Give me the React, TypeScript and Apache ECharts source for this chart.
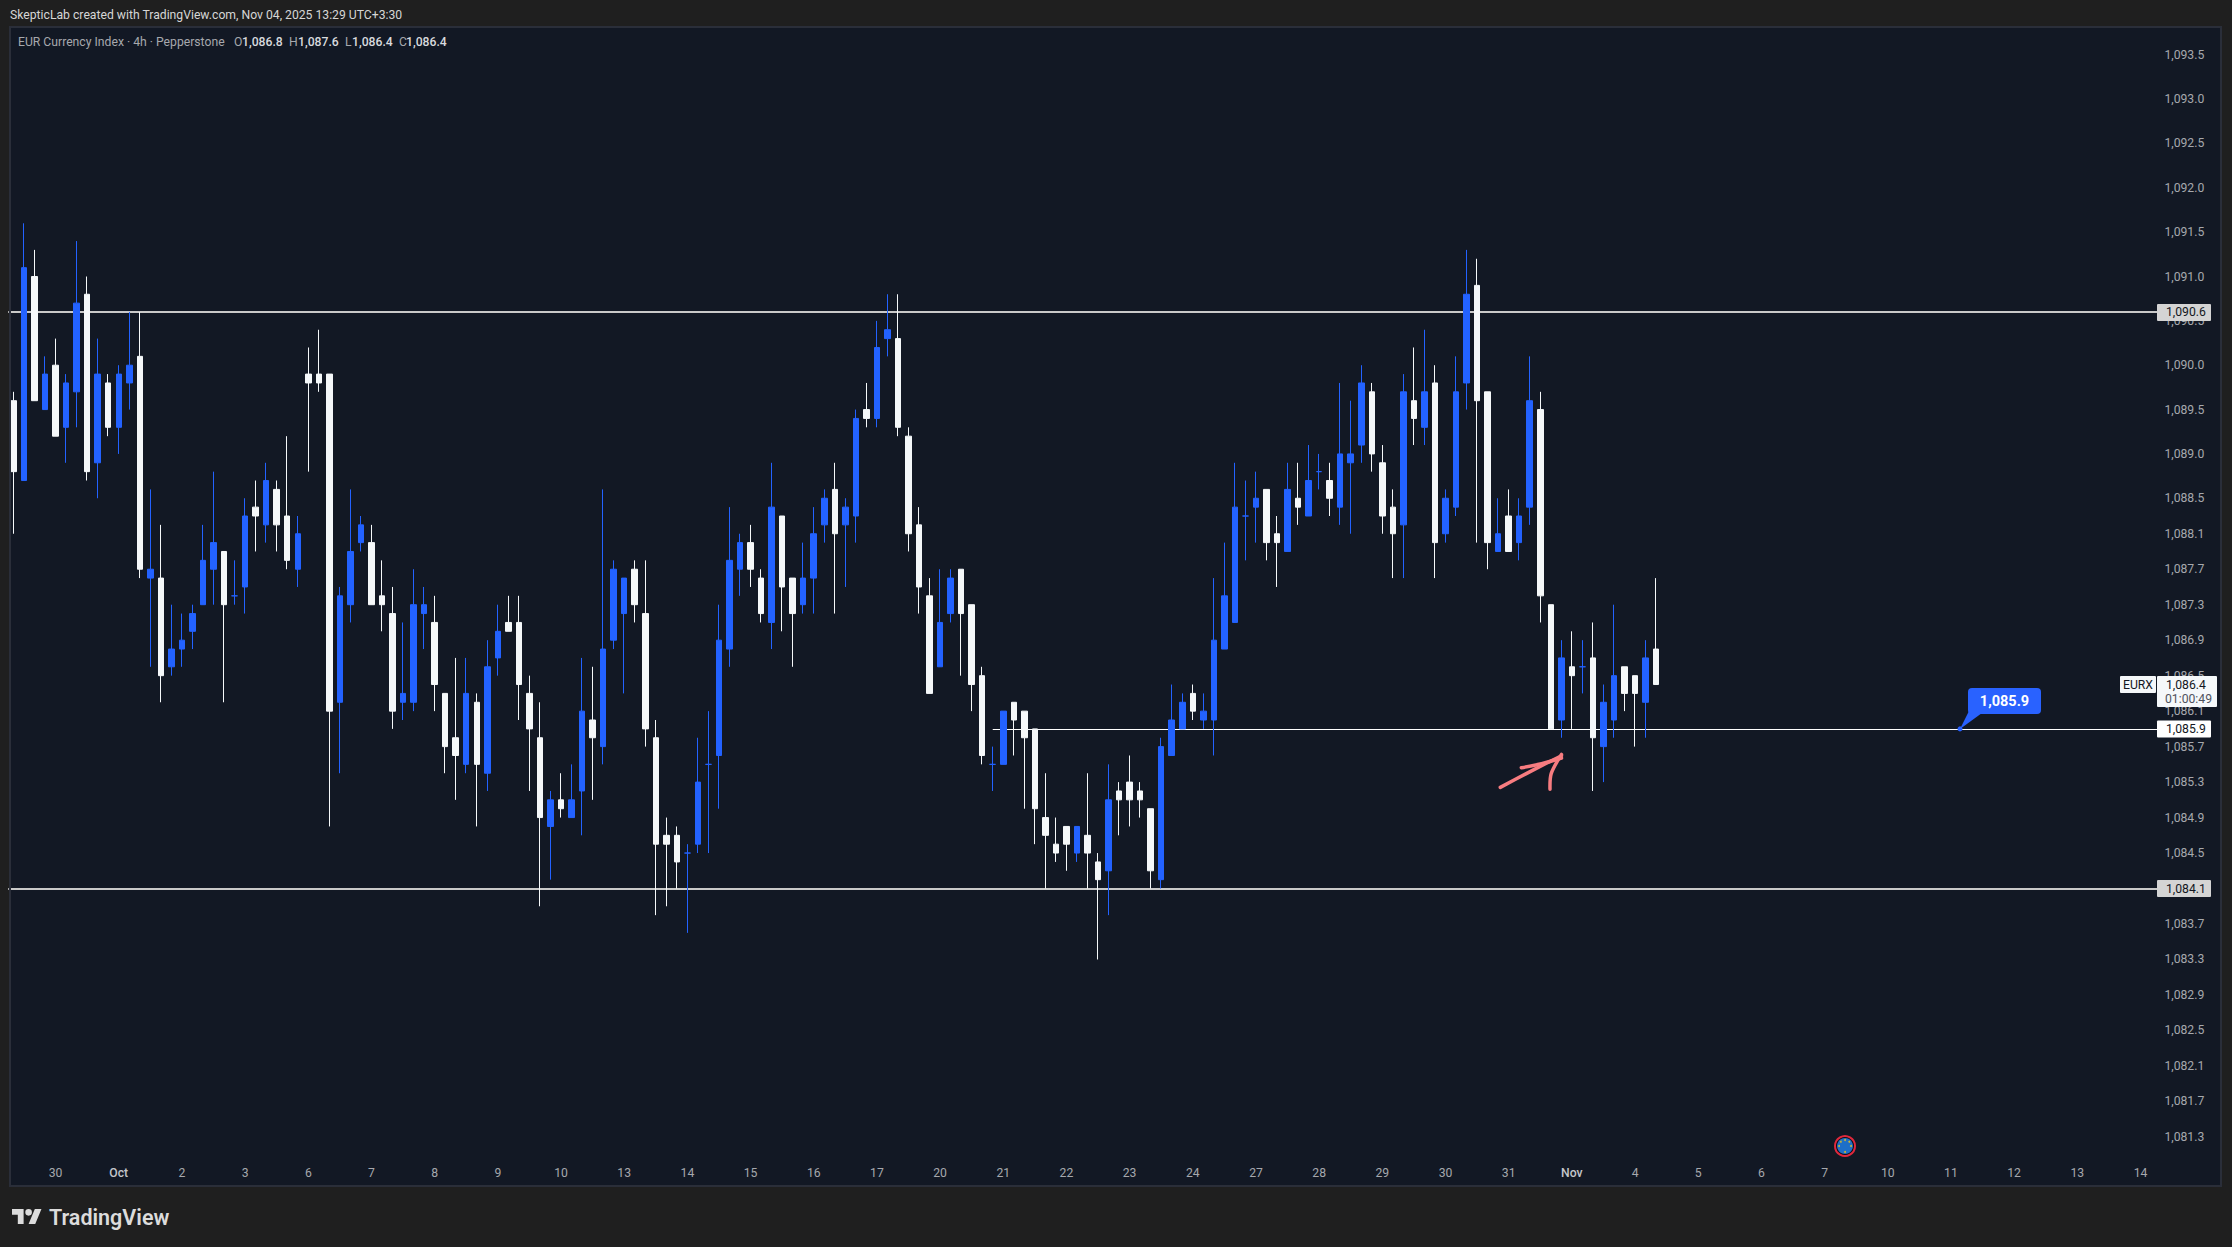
import { useEffect, useRef } from "react";
import * as echarts from "echarts";

// W = white (down) candle, B = blue (up) candle, D = blue doji
const candleKinds = [
  "WBWBWBBWBW", "BBWBWBBBBB", "WDBWBWWBWW", "WBBBWWWBBB", "WWWBWBBWWW", "WBWBBWBBBW",
  "WWWWDBDBBB", "WWBWWBBBWB", "BWBBWWWWBB", "WWWDBWWWWW", "WBWWBWWWWB", "BBWBBBBDBW",
  "WBWBDWBBBW", "WWBWBWBBBW", "WBWBBWWBWD", "WBBWWBW",
].join("");

const highs = [
  1089.7, 1091.6, 1091.3, 1090.1, 1090.3, 1089.9, 1091.4, 1091.0, 1090.3, 1089.9,
  1090.0, 1090.6, 1090.6, 1088.6, 1088.2, 1087.3, 1087.2, 1087.3, 1088.2, 1088.8,
  1087.9, 1087.8, 1088.5, 1088.7, 1088.9, 1088.7, 1089.2, 1088.3, 1090.2, 1090.4,
  1089.9, 1087.5, 1088.6, 1088.3, 1088.2, 1087.8, 1087.5, 1087.1, 1087.7, 1087.5,
  1087.4, 1086.3, 1086.7, 1086.7, 1086.3, 1086.9, 1087.3, 1087.4, 1087.4, 1086.5,
  1086.2, 1085.2, 1085.4, 1085.5, 1086.7, 1086.6, 1088.6, 1087.8, 1087.6, 1087.8,
  1087.8, 1086.0, 1084.9, 1084.8, 1084.6, 1085.8, 1086.1, 1087.3, 1088.4, 1088.1,
  1088.2, 1087.7, 1088.9, 1088.3, 1087.6, 1088.0, 1088.4, 1088.6, 1088.9, 1088.5,
  1089.5, 1089.8, 1090.5, 1090.8, 1090.8, 1089.3, 1088.4, 1087.6, 1087.7, 1087.7,
  1087.7, 1087.3, 1086.6, 1085.7, 1086.1, 1086.2, 1086.1, 1085.9, 1085.4, 1084.9,
  1084.8, 1084.8, 1085.4, 1084.5, 1085.5, 1085.3, 1085.6, 1085.3, 1085.0, 1085.8,
  1086.4, 1086.3, 1086.4, 1086.3, 1087.6, 1088.0, 1088.9, 1088.7, 1088.8, 1088.6,
  1088.3, 1088.9, 1088.9, 1089.1, 1089.0, 1088.9, 1089.8, 1089.6, 1090.0, 1089.8,
  1089.1, 1088.6, 1089.9, 1090.2, 1090.4, 1090.0, 1088.6, 1090.1, 1091.3, 1091.2,
  1089.7, 1088.5, 1088.6, 1088.5, 1090.1, 1089.7, 1087.3, 1086.9, 1087.0, 1086.9,
  1087.1, 1086.4, 1087.3, 1086.6, 1086.5, 1086.9, 1087.6,
];
const bodyTops = [
  1089.6, 1091.1, 1091.0, 1089.9, 1090.0, 1089.8, 1090.7, 1090.8, 1089.9, 1089.8,
  1089.9, 1090.0, 1090.1, 1087.7, 1087.6, 1086.8, 1086.9, 1087.2, 1087.8, 1088.0,
  1087.9, 1087.4, 1088.3, 1088.4, 1088.7, 1088.6, 1088.3, 1088.1, 1089.9, 1089.9,
  1089.9, 1087.4, 1087.9, 1088.2, 1088.0, 1087.4, 1087.2, 1086.3, 1087.3, 1087.3,
  1087.1, 1086.3, 1085.8, 1086.3, 1086.2, 1086.6, 1087.0, 1087.1, 1087.1, 1086.3,
  1085.8, 1085.1, 1085.1, 1085.1, 1086.1, 1086.0, 1086.8, 1087.7, 1087.6, 1087.7,
  1087.2, 1085.8, 1084.7, 1084.7, 1084.5, 1085.3, 1085.5, 1086.9, 1087.8, 1088.0,
  1088.0, 1087.6, 1088.4, 1088.3, 1087.6, 1087.6, 1088.1, 1088.5, 1088.6, 1088.4,
  1089.4, 1089.5, 1090.2, 1090.4, 1090.3, 1089.2, 1088.2, 1087.4, 1087.1, 1087.6,
  1087.7, 1087.3, 1086.5, 1085.5, 1086.1, 1086.2, 1086.1, 1085.9, 1084.9, 1084.6,
  1084.8, 1084.8, 1084.7, 1084.4, 1085.1, 1085.2, 1085.3, 1085.2, 1085.0, 1085.7,
  1086.0, 1086.2, 1086.3, 1086.1, 1086.9, 1087.4, 1088.4, 1088.3, 1088.5, 1088.6,
  1088.1, 1088.6, 1088.5, 1088.7, 1088.8, 1088.7, 1089.0, 1089.0, 1089.8, 1089.7,
  1088.9, 1088.4, 1089.7, 1089.6, 1089.7, 1089.8, 1088.5, 1089.7, 1090.8, 1090.9,
  1089.7, 1088.1, 1088.3, 1088.3, 1089.6, 1089.5, 1087.3, 1086.7, 1086.6, 1086.6,
  1086.7, 1086.2, 1086.5, 1086.6, 1086.5, 1086.7, 1086.8,
];
const bodyBottoms = [
  1088.8, 1088.7, 1089.6, 1089.5, 1089.2, 1089.3, 1089.7, 1088.8, 1088.9, 1089.3,
  1089.3, 1089.8, 1087.7, 1087.6, 1086.5, 1086.6, 1086.8, 1087.0, 1087.3, 1087.7,
  1087.3, 1087.4, 1087.5, 1088.3, 1088.2, 1088.2, 1087.8, 1087.7, 1089.8, 1089.8,
  1086.1, 1086.2, 1087.3, 1088.0, 1087.3, 1087.3, 1086.1, 1086.2, 1086.2, 1087.2,
  1086.4, 1085.7, 1085.6, 1085.5, 1085.5, 1085.4, 1086.7, 1087.0, 1086.4, 1085.9,
  1084.9, 1084.8, 1085.0, 1084.9, 1085.2, 1085.8, 1085.7, 1086.9, 1087.2, 1087.3,
  1085.9, 1084.6, 1084.6, 1084.4, 1084.5, 1084.6, 1085.5, 1085.6, 1086.8, 1087.7,
  1087.7, 1087.2, 1087.1, 1087.5, 1087.2, 1087.3, 1087.6, 1088.2, 1088.1, 1088.2,
  1088.3, 1089.4, 1089.4, 1090.3, 1089.3, 1088.1, 1087.5, 1086.3, 1086.6, 1087.2,
  1087.2, 1086.4, 1085.6, 1085.5, 1085.5, 1086.0, 1085.8, 1085.0, 1084.7, 1084.5,
  1084.6, 1084.5, 1084.5, 1084.2, 1084.3, 1085.1, 1085.1, 1085.1, 1084.3, 1084.2,
  1085.6, 1085.9, 1086.1, 1086.0, 1086.0, 1086.8, 1087.1, 1088.3, 1088.4, 1088.0,
  1088.0, 1087.9, 1088.4, 1088.3, 1088.8, 1088.5, 1088.4, 1088.9, 1089.1, 1089.0,
  1088.3, 1088.1, 1088.2, 1089.4, 1089.3, 1088.0, 1088.1, 1088.4, 1089.8, 1089.6,
  1088.0, 1087.9, 1087.9, 1088.0, 1088.4, 1087.4, 1085.9, 1086.0, 1086.5, 1086.6,
  1085.8, 1085.7, 1086.0, 1086.3, 1086.3, 1086.2, 1086.4,
];
const lows = [
  1088.1, 1088.7, 1089.6, 1089.5, 1089.2, 1088.9, 1089.3, 1088.7, 1088.5, 1089.2,
  1089.0, 1089.5, 1087.6, 1086.6, 1086.2, 1086.5, 1086.6, 1086.8, 1087.3, 1087.3,
  1086.2, 1087.3, 1087.2, 1087.9, 1088.0, 1087.9, 1087.7, 1087.5, 1088.8, 1089.7,
  1084.8, 1085.4, 1087.1, 1087.9, 1087.3, 1087.0, 1085.9, 1086.0, 1086.1, 1086.8,
  1086.1, 1085.4, 1085.1, 1085.4, 1084.8, 1085.2, 1086.5, 1087.0, 1086.0, 1085.2,
  1083.9, 1084.2, 1084.9, 1084.9, 1084.7, 1085.1, 1085.5, 1086.8, 1086.3, 1087.1,
  1085.7, 1083.8, 1083.9, 1084.1, 1083.6, 1084.5, 1084.5, 1085.0, 1086.6, 1087.4,
  1087.5, 1087.1, 1086.8, 1087.0, 1086.6, 1087.2, 1087.2, 1088.0, 1087.2, 1087.5,
  1088.0, 1089.3, 1089.3, 1090.1, 1089.2, 1087.9, 1087.2, 1086.3, 1086.6, 1087.1,
  1086.5, 1086.1, 1085.5, 1085.2, 1085.5, 1085.6, 1085.0, 1084.6, 1084.1, 1084.4,
  1084.3, 1084.4, 1084.1, 1083.3, 1083.8, 1084.7, 1084.8, 1084.9, 1084.1, 1084.1,
  1085.6, 1085.9, 1086.0, 1085.9, 1085.6, 1086.8, 1087.1, 1087.8, 1088.0, 1087.8,
  1087.5, 1087.9, 1088.2, 1088.3, 1088.6, 1088.3, 1088.2, 1088.1, 1088.9, 1088.8,
  1088.1, 1087.6, 1087.6, 1089.1, 1089.1, 1087.6, 1088.0, 1088.3, 1089.5, 1088.0,
  1087.7, 1087.9, 1087.9, 1087.8, 1088.2, 1087.1, 1085.9, 1085.8, 1085.9, 1086.3,
  1085.2, 1085.3, 1085.8, 1086.1, 1085.7, 1085.8, 1086.4,
];

const dayLabels = [
  "30", "Oct", "2", "3", "6", "7", "8", "9", "10", "13", "14", "15", "16", "17", "20", "21", "22",
  "23", "24", "27", "28", "29", "30", "31", "Nov", "4", "5", "6", "7", "10", "11", "12", "13", "14",
];

// price scale labels, the 1,084.1 one sits under its tag
const priceTicks = [
  1093.5, 1093.0, 1092.5, 1092.0, 1091.5, 1091.0, 1090.5, 1090.0, 1089.5, 1089.0, 1088.5, 1088.1,
  1087.7, 1087.3, 1086.9, 1086.5, 1086.1, 1085.7, 1085.3, 1084.9, 1084.5, 1083.7, 1083.3, 1082.9,
  1082.5, 1082.1, 1081.7, 1081.3,
];

const levelHigh = 1090.6;
const levelLow = 1084.1;
const levelRay = 1085.9;
const lastPrice = 1086.4;
const rayStartIndex = 93;

const FONT = "Roboto, sans-serif";
const FONT_SIZE = 12.2;
const OUTER_BG = "#1f1f1f";
const PANE_BG = "#121824";
const PANE_BORDER = "#2a2e39";
const BLUE = "#2362ff";
const WHITE = "#f5f8fa";
const AXIS_TEXT = "#a6a8ad";

const fmt = (v: number) =>
  v.toLocaleString("en-US", { minimumFractionDigits: 1, maximumFractionDigits: 1 });

// one slot per 4h bar, with a day label on every sixth slot
const SLOTS = 205;
const categories = Array.from({ length: SLOTS }, (_, i) =>
  i >= 4 && (i - 4) % 6 === 0 ? dayLabels[(i - 4) / 6] ?? "" : ""
);

const candles = highs.map((high, i) => {
  const isDown = candleKinds[i] === "W";
  return isDown
    ? [bodyTops[i], bodyBottoms[i], lows[i], high]
    : [bodyBottoms[i], bodyTops[i], lows[i], high];
});

const logoPath = "M14 22H7V11H0V4h14v18zM28 22h-8l7.5-18h8L28 22zM24 8a4 4 0 1 1-8 0 4 4 0 0 1 8 0z";
echarts.graphic.registerShape("tvLogo", echarts.graphic.extendPath(logoPath, {}));

const text = (x: number, y: number, value: string, fill: string, fontSize = FONT_SIZE, fontWeight: any = "normal", align = "left") => ({
  type: "text",
  x,
  y,
  z: 30,
  style: { text: value, fill, fontFamily: FONT, fontSize, fontWeight, align, verticalAlign: "middle" },
});

const box = (x: number, y: number, width: number, height: number, fill: string, r = 1, z = 20) => ({
  type: "rect",
  shape: { x, y, width, height, r },
  z,
  style: { fill },
});

const stroke = (points: number[][]) => ({
  type: "polyline",
  z: 25,
  shape: { points, smooth: 0.3 },
  style: { stroke: "#f77c80", lineWidth: 3.5, fill: "none", lineCap: "round", lineJoin: "round" },
});

const euFlagDots = [0, 1, 2, 3, 4, 5, 6, 7].map((i) => ({
  type: "circle",
  z: 27,
  shape: {
    cx: 1845 + 6 * Math.cos((i * Math.PI) / 4),
    cy: 1146 + 6 * Math.sin((i * Math.PI) / 4),
    r: 1,
  },
  style: { fill: "#c9b637" },
}));

export default function App() {
  const chartRef = useRef<HTMLDivElement>(null);

  useEffect(() => {
    if (!chartRef.current) return;
    const chart = echarts.init(chartRef.current, undefined, { renderer: "svg" });

    chart.setOption({
      animation: false,
      backgroundColor: OUTER_BG,
      textStyle: { fontFamily: FONT },
      grid: { left: 8.2, right: 65.2, top: 28.16, bottom: 83.5, containLabel: false },
      xAxis: {
        type: "category",
        data: categories,
        axisLine: { show: false },
        axisTick: { show: false },
        splitLine: { show: false },
        axisLabel: {
          color: AXIS_TEXT,
          fontFamily: FONT,
          fontSize: FONT_SIZE,
          margin: 3,
          hideOverlap: false,
          interval: (_: number, value: string) => value !== "",
          formatter: (value: string) => (value === "Oct" || value === "Nov" ? `{month|${value}}` : value),
          rich: { month: { color: "#c4c6cb", fontFamily: FONT, fontSize: FONT_SIZE, fontWeight: 500 } },
        },
      },
      yAxis: {
        type: "value",
        position: "right",
        min: 1081,
        max: 1093.8,
        scale: true,
        axisLine: { show: false },
        axisTick: { show: false },
        splitLine: { show: false },
        axisLabel: {
          color: AXIS_TEXT,
          fontFamily: FONT,
          fontSize: FONT_SIZE,
          margin: -2.4,
          customValues: priceTicks,
          formatter: (v: number) => fmt(v),
        },
      },
      series: [
        {
          type: "candlestick",
          z: 3,
          clip: false,
          barWidth: 6,
          data: candles,
          itemStyle: {
            color: BLUE,
            color0: WHITE,
            borderColor: BLUE,
            borderColor0: WHITE,
            borderColorDoji: BLUE,
            borderWidth: 1,
          },
          markLine: {
            silent: true,
            z: 2,
            symbol: "none",
            label: { show: false },
            lineStyle: { type: "solid" },
            data: [
              { yAxis: levelHigh, lineStyle: { color: "#c9c9c9", width: 2 } },
              { yAxis: levelLow, lineStyle: { color: "#c9c9c9", width: 2 } },
              [
                { xAxis: rayStartIndex, yAxis: levelRay, lineStyle: { color: "#ffffff", width: 1 } },
                { xAxis: SLOTS - 1, yAxis: levelRay },
              ],
            ],
          },
        },
      ],
    });

    const py = (v: number) => chart.convertToPixel({ yAxisIndex: 0 }, v) as number;
    const rayY = py(levelRay);

    chart.setOption({
      graphic: [
        // pane background and frame
        { type: "rect", z: -5, shape: { x: 10, y: 27, width: 2211, height: 1159 }, style: { fill: PANE_BG } },
        {
          type: "rect",
          z: 15,
          shape: { x: 10, y: 27, width: 2211, height: 1159 },
          style: { fill: "none", stroke: PANE_BORDER, lineWidth: 2 },
        },

        // header
        text(10, 15, "SkepticLab created with TradingView.com, Nov 04, 2025 13:29 UTC+3:30", "#d6d6d6"),
        text(18, 42, "EUR Currency Index · 4h · Pepperstone", "#a6a8ad"),
        text(234, 42, "O", "#a6a8ad"),
        text(242, 42, "1,086.8", "#d8dade", FONT_SIZE, 500),
        text(289, 42, "H", "#a6a8ad"),
        text(298, 42, "1,087.6", "#d8dade", FONT_SIZE, 500),
        text(345, 42, "L", "#a6a8ad"),
        text(352, 42, "1,086.4", "#d8dade", FONT_SIZE, 500),
        text(399, 42, "C", "#a6a8ad"),
        text(406, 42, "1,086.4", "#d8dade", FONT_SIZE, 500),

        // price tags
        box(2157, py(levelHigh) - 8, 54, 17, "#d4d4d4"),
        text(2166, py(levelHigh) + 0.5, fmt(levelHigh), "#131722"),
        box(2157, py(levelLow) - 8.5, 54, 17, "#d4d4d4"),
        text(2166, py(levelLow), fmt(levelLow), "#131722"),
        box(2157, rayY - 8.5, 54, 17, "#ffffff"),
        text(2166, rayY, fmt(levelRay), "#131722"),
        box(2120, py(lastPrice) - 8.5, 36, 17, WHITE),
        text(2138, py(lastPrice), "EURX", "#131722", FONT_SIZE, "normal", "center"),
        box(2157, py(lastPrice) - 8.5, 60, 31, WHITE),
        text(2166, py(lastPrice), fmt(lastPrice), "#131722"),
        text(2165, py(lastPrice) + 14, "01:00:49", "#50535e"),

        // price note on the ray
        {
          type: "polygon",
          z: 20,
          shape: { points: [[1969, 711], [1982, 713], [1960, rayY]] },
          style: { fill: "#2962ff" },
        },
        { type: "circle", z: 20, shape: { cx: 1960, cy: rayY, r: 2.5 }, style: { fill: "#2962ff" } },
        box(1968, 688, 73, 26, "#2962ff", 4),
        text(2004.5, 701, fmt(levelRay), "#ffffff", 14.5, 700, "center"),

        // hand drawn arrow
        stroke([[1500.3, 787.4], [1526.3, 773.6], [1545.4, 763.8], [1561.5, 755.7]]),
        stroke([[1521.3, 767.8], [1541.6, 763.8], [1561.5, 758]]),
        stroke([[1550, 789.2], [1551.2, 773.6], [1561.5, 754.4]]),

        // EU flag event marker
        { type: "circle", z: 25, shape: { cx: 1845, cy: 1146, r: 10 }, style: { fill: "#0b0f18", stroke: "#e0283c", lineWidth: 2 } },
        { type: "circle", z: 26, shape: { cx: 1845, cy: 1146, r: 8 }, style: { fill: "#1e6fc8" } },
        ...euFlagDots,

        // watermark
        { type: "tvLogo", x: 12, y: 1205.7, scaleX: 0.83, scaleY: 0.83, z: 30, style: { fill: "#dcdcdc" } },
        text(49, 1217, "TradingView", "#dcdcdc", 21.5, 600),
      ],
    });

    return () => chart.dispose();
  }, []);

  return (
    <div
      ref={chartRef}
      style={{ position: "fixed", left: 0, top: 0, width: 2232, height: 1247 }}
    />
  );
}
